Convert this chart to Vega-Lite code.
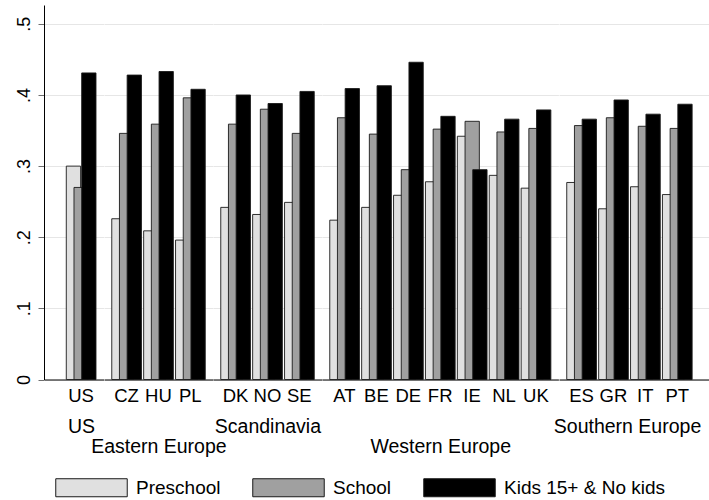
{
  "$schema": "https://vega.github.io/schema/vega-lite/v6.json",
  "padding": {"left": 15, "top": 5, "right": 0, "bottom": 0},
  "spacing": 0,
  "bounds": "flush",
  "data": {"values": [
    {"region": "US", "country": "US", "group": "Preschool", "value": 0.300},
    {"region": "US", "country": "US", "group": "School", "value": 0.270},
    {"region": "US", "country": "US", "group": "Kids 15+ & No kids", "value": 0.431},
    {"region": "Eastern Europe", "country": "CZ", "group": "Preschool", "value": 0.226},
    {"region": "Eastern Europe", "country": "CZ", "group": "School", "value": 0.346},
    {"region": "Eastern Europe", "country": "CZ", "group": "Kids 15+ & No kids", "value": 0.428},
    {"region": "Eastern Europe", "country": "HU", "group": "Preschool", "value": 0.209},
    {"region": "Eastern Europe", "country": "HU", "group": "School", "value": 0.359},
    {"region": "Eastern Europe", "country": "HU", "group": "Kids 15+ & No kids", "value": 0.433},
    {"region": "Eastern Europe", "country": "PL", "group": "Preschool", "value": 0.196},
    {"region": "Eastern Europe", "country": "PL", "group": "School", "value": 0.396},
    {"region": "Eastern Europe", "country": "PL", "group": "Kids 15+ & No kids", "value": 0.408},
    {"region": "Scandinavia", "country": "DK", "group": "Preschool", "value": 0.242},
    {"region": "Scandinavia", "country": "DK", "group": "School", "value": 0.359},
    {"region": "Scandinavia", "country": "DK", "group": "Kids 15+ & No kids", "value": 0.400},
    {"region": "Scandinavia", "country": "NO", "group": "Preschool", "value": 0.232},
    {"region": "Scandinavia", "country": "NO", "group": "School", "value": 0.380},
    {"region": "Scandinavia", "country": "NO", "group": "Kids 15+ & No kids", "value": 0.388},
    {"region": "Scandinavia", "country": "SE", "group": "Preschool", "value": 0.249},
    {"region": "Scandinavia", "country": "SE", "group": "School", "value": 0.346},
    {"region": "Scandinavia", "country": "SE", "group": "Kids 15+ & No kids", "value": 0.405},
    {"region": "Western Europe", "country": "AT", "group": "Preschool", "value": 0.224},
    {"region": "Western Europe", "country": "AT", "group": "School", "value": 0.368},
    {"region": "Western Europe", "country": "AT", "group": "Kids 15+ & No kids", "value": 0.409},
    {"region": "Western Europe", "country": "BE", "group": "Preschool", "value": 0.242},
    {"region": "Western Europe", "country": "BE", "group": "School", "value": 0.345},
    {"region": "Western Europe", "country": "BE", "group": "Kids 15+ & No kids", "value": 0.413},
    {"region": "Western Europe", "country": "DE", "group": "Preschool", "value": 0.259},
    {"region": "Western Europe", "country": "DE", "group": "School", "value": 0.295},
    {"region": "Western Europe", "country": "DE", "group": "Kids 15+ & No kids", "value": 0.446},
    {"region": "Western Europe", "country": "FR", "group": "Preschool", "value": 0.278},
    {"region": "Western Europe", "country": "FR", "group": "School", "value": 0.352},
    {"region": "Western Europe", "country": "FR", "group": "Kids 15+ & No kids", "value": 0.370},
    {"region": "Western Europe", "country": "IE", "group": "Preschool", "value": 0.342},
    {"region": "Western Europe", "country": "IE", "group": "School", "value": 0.363},
    {"region": "Western Europe", "country": "IE", "group": "Kids 15+ & No kids", "value": 0.295},
    {"region": "Western Europe", "country": "NL", "group": "Preschool", "value": 0.287},
    {"region": "Western Europe", "country": "NL", "group": "School", "value": 0.348},
    {"region": "Western Europe", "country": "NL", "group": "Kids 15+ & No kids", "value": 0.366},
    {"region": "Western Europe", "country": "UK", "group": "Preschool", "value": 0.269},
    {"region": "Western Europe", "country": "UK", "group": "School", "value": 0.353},
    {"region": "Western Europe", "country": "UK", "group": "Kids 15+ & No kids", "value": 0.379},
    {"region": "Southern Europe", "country": "ES", "group": "Preschool", "value": 0.277},
    {"region": "Southern Europe", "country": "ES", "group": "School", "value": 0.357},
    {"region": "Southern Europe", "country": "ES", "group": "Kids 15+ & No kids", "value": 0.366},
    {"region": "Southern Europe", "country": "GR", "group": "Preschool", "value": 0.240},
    {"region": "Southern Europe", "country": "GR", "group": "School", "value": 0.368},
    {"region": "Southern Europe", "country": "GR", "group": "Kids 15+ & No kids", "value": 0.393},
    {"region": "Southern Europe", "country": "IT", "group": "Preschool", "value": 0.271},
    {"region": "Southern Europe", "country": "IT", "group": "School", "value": 0.356},
    {"region": "Southern Europe", "country": "IT", "group": "Kids 15+ & No kids", "value": 0.373},
    {"region": "Southern Europe", "country": "PT", "group": "Preschool", "value": 0.260},
    {"region": "Southern Europe", "country": "PT", "group": "School", "value": 0.353},
    {"region": "Southern Europe", "country": "PT", "group": "Kids 15+ & No kids", "value": 0.387}
  ]},
  "hconcat": [
    {
      "width": 59.55, "height": 374.5,
      "transform": [{"filter": "datum.region == 'US'"}],
      "mark": {"type": "bar", "size": 14.3, "stroke": "#1a1a1a", "strokeWidth": 0.9},
      "encoding": {
        "x": {"field": "country", "type": "nominal", "sort": null,
              "scale": {"paddingInner": 0.0752, "paddingOuter": 0.471, "align": 0.742, "round": false},
              "axis": {"title": "US", "titlePadding": 12, "titleX": 37.05}},
        "xOffset": {"field": "group", "type": "nominal", "sort": ["Preschool", "School", "Kids 15+ & No kids"],
                    "scale": {"range": [3.3, 26.4], "paddingInner": 0, "paddingOuter": 0, "round": false}},
        "y": {"field": "value", "type": "quantitative", "stack": null,
              "scale": {"domain": [0, 0.5265], "nice": false, "zero": true},
              "axis": {"title": null, "values": [0, 0.1, 0.2, 0.3, 0.4, 0.5],
                       "labelExpr": "datum.value == 0 ? '0' : substring(format(datum.value, '.1f'), 1)",
                       "labelAngle": -90, "labelAlign": "center", "labelBaseline": "alphabetic",
                       "labelPadding": 9, "ticks": true, "tickSize": 6, "tickColor": "#6e6e6e",
                       "domain": true, "domainColor": "#000000", "grid": true}},
        "color": {"field": "group", "type": "nominal", "sort": ["Preschool", "School", "Kids 15+ & No kids"],
                  "scale": {"domain": ["Preschool", "School", "Kids 15+ & No kids"], "range": ["#e0e0e0", "#a0a0a0", "#000000"]},
                  "legend": {"orient": "none", "legendX": 11, "legendY": 446, "direction": "horizontal", "columns": 3,
                             "title": null, "symbolType": "M-1,-0.252H1V0.252H-1Z", "symbolSize": 5112,
                             "symbolStrokeColor": "#000000", "symbolStrokeWidth": 1, "symbolOpacity": 1,
                             "labelFontSize": 19, "labelOffset": 8, "columnPadding": 29, "labelColor": "#000000",
                             "labelFont": "Liberation Sans", "labelLimit": 400, "padding": 0}}
      }
    },
    {
      "width": 108.8, "height": 374.5,
      "transform": [{"filter": "datum.region == 'Eastern Europe'"}],
      "mark": {"type": "bar", "size": 14.3, "stroke": "#1a1a1a", "strokeWidth": 0.9},
      "encoding": {
        "x": {"field": "country", "type": "nominal", "sort": null,
              "scale": {"paddingInner": 0.0752, "paddingOuter": 0.243, "round": false},
              "axis": {"title": "Eastern Europe", "titlePadding": 32}},
        "xOffset": {"field": "group", "type": "nominal", "sort": ["Preschool", "School", "Kids 15+ & No kids"],
                    "scale": {"range": [3.3, 26.4], "paddingInner": 0, "paddingOuter": 0, "round": false}},
        "y": {"field": "value", "type": "quantitative", "stack": null,
              "scale": {"domain": [0, 0.5265], "nice": false},
              "axis": {"title": null, "values": [0, 0.1, 0.2, 0.3, 0.4, 0.5], "labels": false, "ticks": false, "domain": false, "grid": true}},
        "color": {"field": "group", "type": "nominal", "sort": ["Preschool", "School", "Kids 15+ & No kids"]}
      }
    },
    {
      "width": 108.8, "height": 374.5,
      "transform": [{"filter": "datum.region == 'Scandinavia'"}],
      "mark": {"type": "bar", "size": 14.3, "stroke": "#1a1a1a", "strokeWidth": 0.9},
      "encoding": {
        "x": {"field": "country", "type": "nominal", "sort": null,
              "scale": {"paddingInner": 0.0752, "paddingOuter": 0.243, "round": false},
              "axis": {"title": "Scandinavia", "titlePadding": 12}},
        "xOffset": {"field": "group", "type": "nominal", "sort": ["Preschool", "School", "Kids 15+ & No kids"],
                    "scale": {"range": [3.3, 26.4], "paddingInner": 0, "paddingOuter": 0, "round": false}},
        "y": {"field": "value", "type": "quantitative", "stack": null,
              "scale": {"domain": [0, 0.5265], "nice": false},
              "axis": {"title": null, "values": [0, 0.1, 0.2, 0.3, 0.4, 0.5], "labels": false, "ticks": false, "domain": false, "grid": true}},
        "color": {"field": "group", "type": "nominal", "sort": ["Preschool", "School", "Kids 15+ & No kids"]}
      }
    },
    {
      "width": 236.4, "height": 374.5,
      "transform": [{"filter": "datum.region == 'Western Europe'"}],
      "mark": {"type": "bar", "size": 14.3, "stroke": "#1a1a1a", "strokeWidth": 0.9},
      "encoding": {
        "x": {"field": "country", "type": "nominal", "sort": null,
              "scale": {"paddingInner": 0.0752, "paddingOuter": 0.243, "round": false},
              "axis": {"title": "Western Europe", "titlePadding": 32}},
        "xOffset": {"field": "group", "type": "nominal", "sort": ["Preschool", "School", "Kids 15+ & No kids"],
                    "scale": {"range": [3.3, 26.4], "paddingInner": 0, "paddingOuter": 0, "round": false}},
        "y": {"field": "value", "type": "quantitative", "stack": null,
              "scale": {"domain": [0, 0.5265], "nice": false},
              "axis": {"title": null, "values": [0, 0.1, 0.2, 0.3, 0.4, 0.5], "labels": false, "ticks": false, "domain": false, "grid": true}},
        "color": {"field": "group", "type": "nominal", "sort": ["Preschool", "School", "Kids 15+ & No kids"]}
      }
    },
    {
      "width": 153.25, "height": 374.5,
      "transform": [{"filter": "datum.region == 'Southern Europe'"}],
      "mark": {"type": "bar", "size": 14.3, "stroke": "#1a1a1a", "strokeWidth": 0.9},
      "encoding": {
        "x": {"field": "country", "type": "nominal", "sort": null,
              "scale": {"paddingInner": 0.0752, "paddingOuter": 0.4397, "align": 0.276, "round": false},
              "axis": {"title": "Southern Europe", "titlePadding": 12, "titleX": 68}},
        "xOffset": {"field": "group", "type": "nominal", "sort": ["Preschool", "School", "Kids 15+ & No kids"],
                    "scale": {"range": [3.3, 26.4], "paddingInner": 0, "paddingOuter": 0, "round": false}},
        "y": {"field": "value", "type": "quantitative", "stack": null,
              "scale": {"domain": [0, 0.5265], "nice": false},
              "axis": {"title": null, "values": [0, 0.1, 0.2, 0.3, 0.4, 0.5], "labels": false, "ticks": false, "domain": false, "grid": true}},
        "color": {"field": "group", "type": "nominal", "sort": ["Preschool", "School", "Kids 15+ & No kids"]}
      }
    }
  ],
  "resolve": {
    "scale": {"y": "shared", "x": "independent", "xOffset": "independent", "color": "shared"},
    "axis": {"y": "independent", "x": "independent"}
  },
  "config": {
    "font": "Liberation Sans",
    "view": {"stroke": null},
    "axis": {
      "labelFont": "Liberation Sans", "titleFont": "Liberation Sans",
      "labelColor": "#000000", "titleColor": "#000000", "titleFontWeight": "normal",
      "gridColor": "#e6e6e6", "gridWidth": 1.2, "gridOpacity": 1
    },
    "axisY": {"labelFontSize": 18},
    "axisX": {
      "labelAngle": 0, "labelFontSize": 18.5, "labelPadding": 7, "tickSize": 0, "ticks": false,
      "domainColor": "#000000", "domainWidth": 1.2, "grid": false,
      "titleFontSize": 19.5, "titleBaseline": "top"
    }
  }
}
